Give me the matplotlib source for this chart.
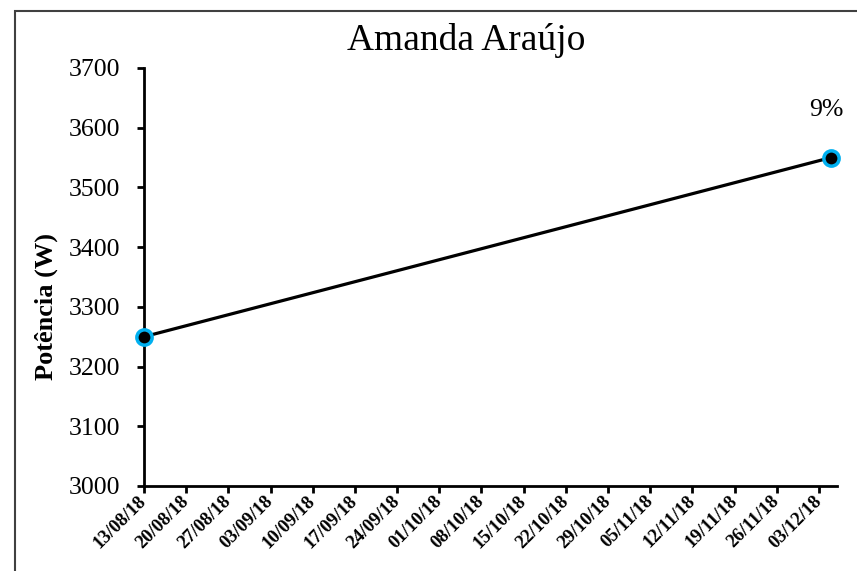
import matplotlib
matplotlib.use("Agg")
import matplotlib.pyplot as plt
import matplotlib.dates as mdates
from matplotlib.patches import Rectangle
from datetime import datetime, timedelta

# data
dates = ["13/08/2018", "05/12/2018"]
potencia = [3250, 3550]
rotulo = "9%"
titulo = "Amanda Araújo"
ylabel = "Potência (W)"

x = [datetime.strptime(d, "%d/%m/%Y") for d in dates]

plt.rcParams['font.family'] = ['Liberation Serif', 'DejaVu Serif']

fig = plt.figure(figsize=(8.57, 5.71), dpi=100)
ax = fig.add_axes([144 / 857, 85 / 571, 693 / 857, 418 / 571])

ax.plot(x, potencia, color='black', lw=2.3, marker='o', markersize=11,
        markerfacecolor='black', markeredgecolor='#00B0F0', markeredgewidth=2.5,
        zorder=3, clip_on=False)
ax.annotate(rotulo, (x[-1], potencia[-1]), xytext=(-3, 26), textcoords='offset points',
            ha='center', va='bottom', fontsize=18.5)

ax.set_ylim(3000, 3700)
ax.set_yticks(range(3000, 3701, 100))
start = x[0]
ticks = [start + timedelta(days=7 * i) for i in range(17)]
ax.set_xticks(ticks)
ax.xaxis.set_major_formatter(mdates.DateFormatter("%d/%m/%y"))
ax.set_xlim(start, start + timedelta(days=115))

for lbl in ax.get_xticklabels():
    lbl.set_rotation(45)
    lbl.set_ha('right')
    lbl.set_va('center')
    lbl.set_rotation_mode('anchor')
    lbl.set_fontweight('bold')
    lbl.set_fontsize(13.5)
for lbl in ax.get_yticklabels():
    lbl.set_fontsize(18.5)

ax.spines['top'].set_visible(False)
ax.spines['right'].set_visible(False)
ax.spines['left'].set_linewidth(2)
ax.spines['bottom'].set_linewidth(2)
ax.tick_params(axis='both', direction='out', width=2, length=5)
ax.tick_params(axis='y', pad=12)
ax.tick_params(axis='x', pad=4)
ax.set_ylabel(ylabel, fontsize=19, fontweight='bold')
ax.yaxis.set_label_coords(58 / 857, 1 - 306 / 571, transform=fig.transFigure)

fig.text(466 / 857, 1 - 50 / 571, titulo, fontsize=27, ha='center', va='baseline')

fig.patches.append(Rectangle((15 / 857, -0.1), 1.0, 1 - 10.5 / 571 + 0.1, transform=fig.transFigure,
                             fill=False, edgecolor='#404040', lw=1.5))

fig.savefig("out.png", dpi=100)
